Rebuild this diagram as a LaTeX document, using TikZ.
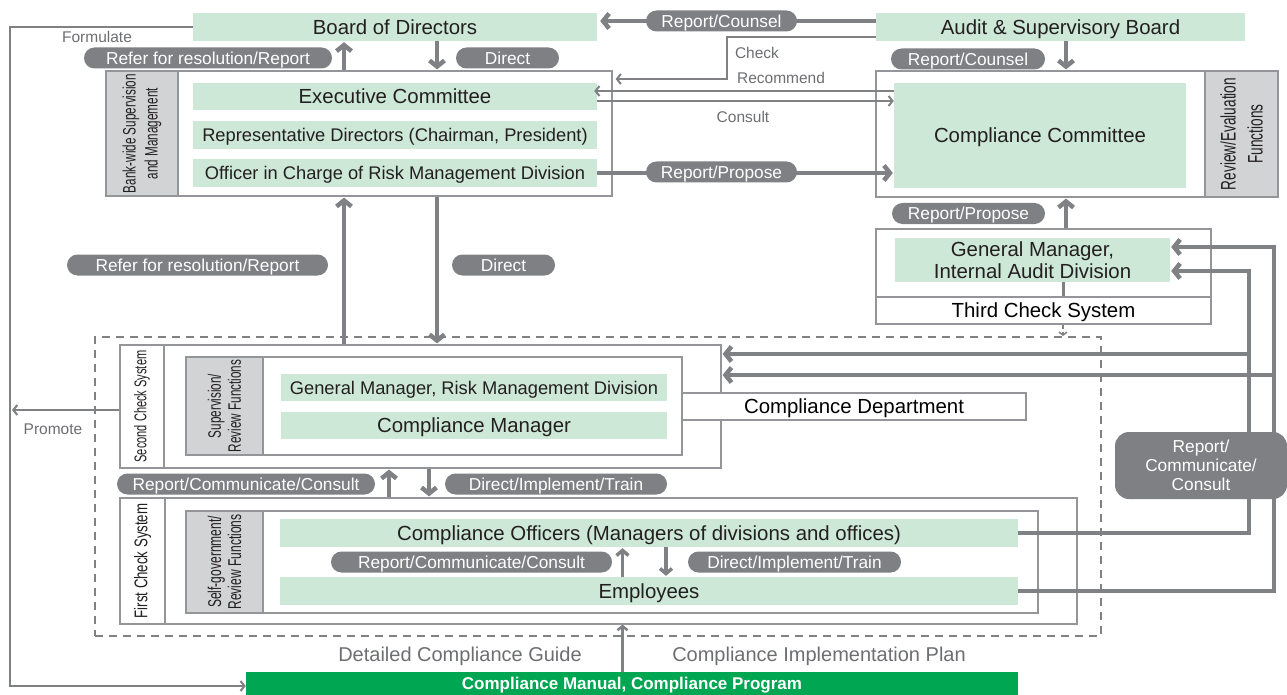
\documentclass[tikz,border=0pt]{standalone}
\usepackage{fontspec}
\setmainfont{Liberation Sans}
\newfontfamily\condA{Liberation Sans}[FakeStretch=0.65]
\newfontfamily\condB{Liberation Sans}[FakeStretch=0.72]
\usetikzlibrary{arrows.meta,calc}
\definecolor{cgreen}{HTML}{CDE8D7}
\definecolor{cpanel}{HTML}{D1D3D4}
\definecolor{cpill}{HTML}{7F8083}
\definecolor{cline}{HTML}{808184}
\definecolor{cborder}{HTML}{939598}
\definecolor{ctext}{HTML}{231F20}
\definecolor{cgray}{HTML}{6D6E71}
\definecolor{cmanual}{HTML}{00A651}
\newcommand\fsBig{\fontsize{20.4}{22}\selectfont}
\newcommand\fsMed{\fontsize{18.3}{20}\selectfont}
\newcommand\fsPill{\fontsize{17.3}{19}\selectfont}
\newcommand\fsSmall{\fontsize{15.5}{17}\selectfont}
\newcommand\fsMan{\fontsize{17}{19}\selectfont}
\begin{document}
\begin{tikzpicture}[x=1pt,y=-1pt,
  tbig/.style={font=\fsBig, text height=18.6pt, text depth=4pt},
  tmed/.style={font=\fsMed, text height=16.6pt, text depth=3.5pt},
  greenbox/.style={fill=cgreen, draw=none, inner sep=0pt, text=ctext},
  frame/.style={draw=cborder, line width=1.2pt, fill=white, inner sep=0pt},
  panel/.style={draw=cborder, line width=1.2pt, fill=cpanel, inner sep=0pt},
  pill/.style={fill=cpill, text=white, rounded corners=10.5pt, minimum height=21pt, inner sep=0pt, font=\fsPill, text height=15.9pt, text depth=3.5pt},
  graytext/.style={text=cgray, inner sep=0pt, font=\fsSmall},
  rotlabel/.style={rotate=90, align=center, inner sep=0pt, text=ctext},
  bigarrow/.style={draw=cline, line width=4.5pt, -{Straight Barb[length=6pt,width=15pt]}, shorten >=1pt},
  midarrow/.style={draw=cline, line width=3.5pt, -{Straight Barb[length=5pt,width=12pt]}, shorten >=1pt},
  thinarrow/.style={draw=cline, line width=2pt, -{Straight Barb[length=4pt,width=10pt]}},
]
\useasboundingbox (0,0) rectangle (1287,695);

% reference coordinates
\coordinate (ux) at (344,0);
\coordinate (dx) at (437,0);
\coordinate (cx) at (1066,0);
\coordinate (tx) at (1063,0);
\coordinate (mx1) at (389,0);
\coordinate (mx2) at (429,0);
\coordinate (ex1) at (622.5,0);
\coordinate (ex2) at (666,0);
\coordinate (ro) at (1274,0);
\coordinate (ri) at (1249,0);
\coordinate (r21) at (0,21);
\coordinate (r37) at (0,37);
\coordinate (r91) at (0,91);
\coordinate (r101) at (0,101);
\coordinate (r247) at (0,247);
\coordinate (r271) at (0,271);
\coordinate (r354) at (0,354);
\coordinate (r375) at (0,375);
\coordinate (r410) at (0,410);
\coordinate (chk) at (727,79);
\coordinate (fl) at (10,686);
\coordinate (pm) at (12,410);

% top row
\node[greenbox, tbig, minimum width=404pt, minimum height=28pt] (board) at (395,27) {Board of Directors};
\node[greenbox, tbig, minimum width=369pt, minimum height=28pt] (audit) at (1060.5,27) {Audit \& Supervisory Board};

% executive block
\node[frame, minimum width=506pt, minimum height=125pt] (exec) at (359,133.5) {};
\node[panel, minimum width=72pt, minimum height=125pt] (bankp) at (142,133.5) {};
\node[rotlabel, font=\condA\fontsize{18}{22}\selectfont] (bankl) at (bankp.center) {Bank-wide Supervision\\and Management};
\node[greenbox, tbig, minimum width=404pt, minimum height=27pt] (execc) at (395,96.5) {Executive Committee};
\node[greenbox, tmed, minimum width=404pt, minimum height=28pt] (repdir) at (395,135) {Representative Directors (Chairman, President)};
\node[greenbox, tmed, minimum width=404pt, minimum height=28pt] (officer) at (395,173) {Officer in Charge of Risk Management Division};

% compliance committee block
\node[frame, minimum width=402pt, minimum height=126pt] (cc) at (1077,134) {};
\node[panel, minimum width=73pt, minimum height=126pt] (ccp) at (1241.5,134) {};
\node[rotlabel, font=\condA\fontsize{21}{27}\selectfont] (ccl) at (ccp.center) {Review/Evaluation\\Functions};
\node[greenbox, tbig, minimum width=292pt, minimum height=105pt] (ccgreen) at (1040,135.5) {Compliance Committee};

% third check system
\node[frame, minimum width=335pt, minimum height=95pt] (third) at (1043.5,276.5) {};
\node[frame, tbig, minimum width=335pt, minimum height=27pt] (thirdl) at (1043.5,310.5) {Third Check System};
\node[fill=cgreen, inner sep=0pt, minimum width=275pt, minimum height=44pt, align=center, text=ctext, font=\fontsize{20.4}{21.5}\selectfont] (gmia) at (1032.5,260) {General Manager,\\Internal Audit Division};

% dashed frame
\node[draw=cline, line width=2pt, dash pattern=on 8pt off 6pt, minimum width=1006pt, minimum height=299pt, inner sep=0pt] (dbox) at (598,486.5) {};

% second check system
\node[frame, minimum width=601pt, minimum height=123pt] (second) at (420.5,406.5) {};
\node[frame, minimum width=44pt, minimum height=123pt] (secp) at (142,406.5) {};
\node[rotlabel, font=\condA\fontsize{17}{20}\selectfont] (secl) at (secp.center) {Second Check System};
\node[frame, minimum width=496pt, minimum height=98pt] (sup) at (434,406) {};
\node[panel, minimum width=77pt, minimum height=98pt] (supp) at (224.5,406) {};
\node[rotlabel, font=\condA\fontsize{18}{20}\selectfont] (supl) at (supp.center) {Supervision/\\Review Functions};
\node[greenbox, tmed, minimum width=386pt, minimum height=27pt] (gmrm) at (474,387.5) {General Manager, Risk Management Division};
\node[greenbox, tbig, minimum width=386pt, minimum height=27pt] (cmgr) at (474,425.5) {Compliance Manager};
\node[frame, tbig, minimum width=344pt, minimum height=27pt] (cdept) at (854,406.5) {Compliance Department};

% first check system
\node[frame, minimum width=957pt, minimum height=126pt] (first) at (598.5,561) {};
\node[frame, minimum width=45pt, minimum height=126pt] (firp) at (142.5,561) {};
\node[rotlabel, font=\condB\fontsize{18.4}{20}\selectfont] (firl) at (firp.center) {First Check System};
\node[frame, minimum width=852pt, minimum height=102pt] (self) at (612,562) {};
\node[panel, minimum width=77pt, minimum height=102pt] (selfp) at (224.5,562) {};
\node[rotlabel, font=\condA\fontsize{18.5}{20}\selectfont] (selfl) at (selfp.center) {Self-government/\\Review Functions};
\node[greenbox, tbig, minimum width=738pt, minimum height=28pt] (officers) at (649,533) {Compliance Officers (Managers of divisions and offices)};
\node[greenbox, tbig, minimum width=738pt, minimum height=28pt] (employees) at (649,591) {Employees};

% manual
\node[fill=cmanual, text=white, font=\bfseries\fsMan, minimum width=772pt, minimum height=23pt, inner sep=0pt, text height=15.7pt, text depth=3.5pt] (manual) at (632,683.5) {Compliance Manual, Compliance Program};

% gray labels
\node[graytext] (tform) at (97,37) {Formulate};
\node[graytext] (tcheck) at (757,53) {Check};
\node[graytext] (trec) at (781,78) {Recommend};
\node[graytext] (tcons) at (743,117) {Consult};
\node[graytext] (tprom) at (53,429) {Promote};
\node[text=cgray, inner sep=0pt, font=\fontsize{20}{22}\selectfont] (tguide) at (460,656) {Detailed Compliance Guide};
\node[text=cgray, inner sep=0pt, font=\fontsize{20}{22}\selectfont] (tplan) at (819,656) {Compliance Implementation Plan};

% connectors
\draw[bigarrow, shorten >=3pt] (audit.west |- r21) -- (board.east |- r21);
\draw[thinarrow, shorten >=3pt] (audit.west |- r37) -| (chk) -- (exec.east |- chk);
\draw[bigarrow] (exec.north -| ux) -- (board.south -| ux);
\draw[bigarrow] (board.south -| dx) -- (exec.north -| dx);
\draw[thinarrow, shorten >=-3pt] (ccgreen.west |- r91) -- (execc.east |- r91);
\draw[thinarrow] (execc.east |- r101) -- (ccgreen.west |- r101);
\draw[bigarrow] (officer.east) -- (ccgreen.west |- officer.east);
\draw[bigarrow] (audit.south -| cx) -- (cc.north -| cx);
\draw[bigarrow] (third.north -| cx) -- (cc.south -| cx);
\draw[draw=cline, line width=3pt] (gmia.south -| tx) -- (thirdl.north -| tx);
\draw[draw=cline, line width=1.5pt, dash pattern=on 4pt off 3pt, -{Straight Barb[length=3pt,width=8pt]}] (thirdl.south -| tx) -- (dbox.north -| tx);
\draw[bigarrow] (second.north -| ux) -- (exec.south -| ux);
\draw[bigarrow] (exec.south -| dx) -- (second.north -| dx);
\draw[bigarrow] (first.north -| mx1) -- (second.south -| mx1);
\draw[bigarrow] (second.south -| mx2) -- (first.north -| mx2);
\draw[midarrow] (employees.north -| ex1) -- (officers.south -| ex1);
\draw[midarrow] (officers.south -| ex2) -- (employees.north -| ex2);
\draw[thinarrow, line width=2.5pt] (manual.north -| ex1) -- (first.south -| ex1);
\draw[thinarrow] (board.west) -| (fl) -- (manual.west |- fl);
\draw[thinarrow] (second.west |- r410) -- (pm);
\draw[bigarrow] (employees.east) -| (ro |- r247) -- (gmia.east |- r247);
\draw[bigarrow] (officers.east) -| (ri |- r271) -- (gmia.east |- r271);
\draw[bigarrow] (ro |- r375) -- (second.east |- r375);
\draw[bigarrow] (ri |- r354) -- (second.east |- r354);

% pills
\node[pill, minimum width=151pt] (p1) at (721.5,21) {Report/Counsel};
\node[pill, minimum width=248pt] (p2) at (208,58) {Refer for resolution/Report};
\node[pill, minimum width=103pt] (p3) at (507.5,58) {Direct};
\node[pill, minimum width=154pt] (p4) at (968,59) {Report/Counsel};
\node[pill, minimum width=151pt] (p5) at (721.5,172) {Report/Propose};
\node[pill, minimum width=153pt] (p6) at (968.5,213.5) {Report/Propose};
\node[pill, minimum width=261pt] (p7) at (197.5,265) {Refer for resolution/Report};
\node[pill, minimum width=103pt] (p8) at (503.5,265) {Direct};
\node[pill, minimum width=258pt] (p9) at (246,484) {Report/Communicate/Consult};
\node[pill, minimum width=222pt] (p10) at (556,484) {Direct/Implement/Train};
\node[pill, minimum width=281pt] (p11) at (471.5,562) {Report/Communicate/Consult};
\node[pill, minimum width=213pt] (p12) at (794.5,562) {Direct/Implement/Train};
\node[fill=cpill, text=white, rounded corners=14pt, minimum width=172pt, minimum height=67pt, inner sep=0pt, align=center, font=\fontsize{17.3}{19}\selectfont] (pbig) at (1201,465.5) {Report/\\Communicate/\\Consult};
\end{tikzpicture}
\end{document}
